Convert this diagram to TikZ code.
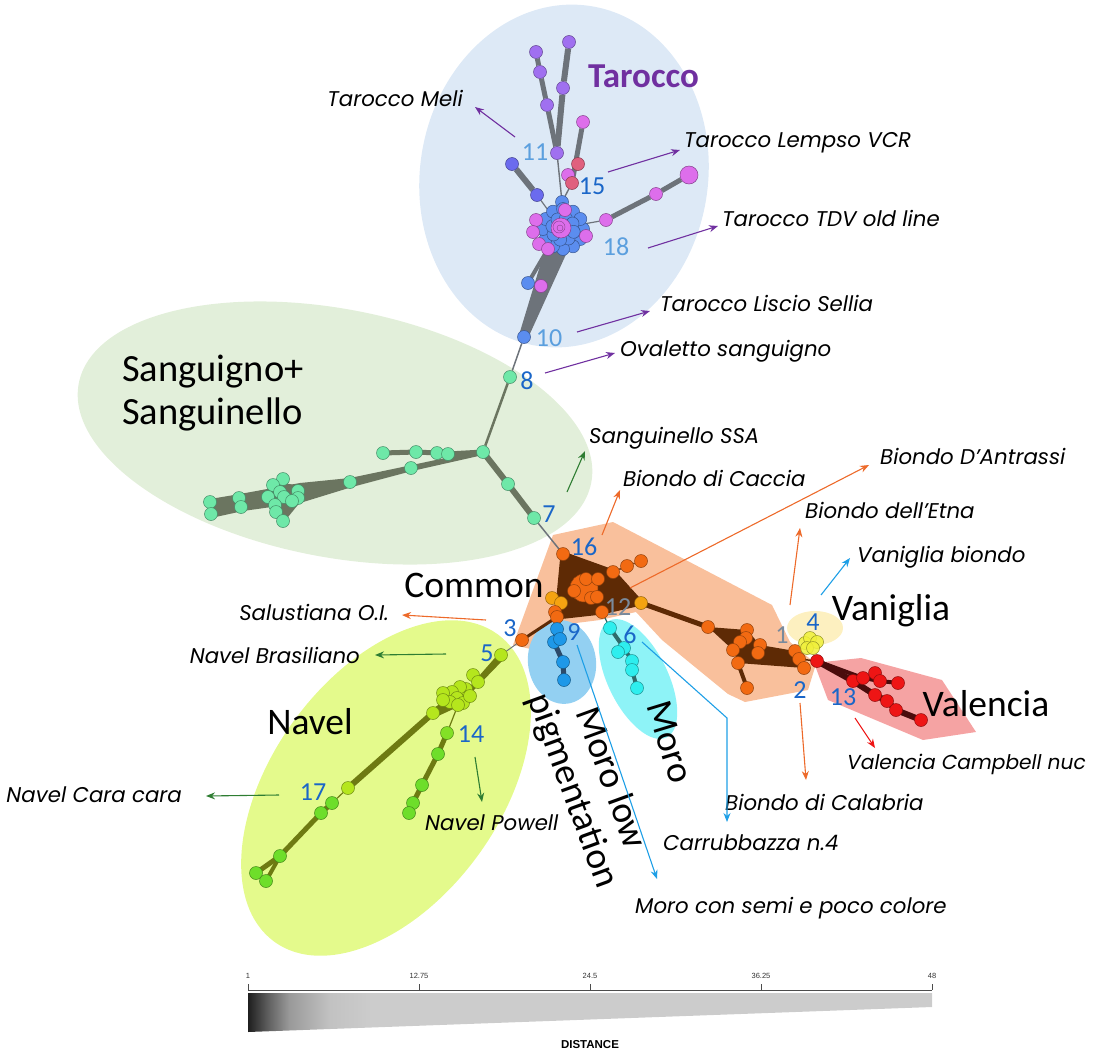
\documentclass[tikz,border=0pt]{standalone}
\usepackage{fontspec}
\setmainfont{Carlito}
\newfontfamily\labfont{Poppins}
\newfontfamily\barfont{Liberation Sans}
\usetikzlibrary{shapes.geometric,arrows.meta}
\pgfdeclarelayer{back}
\pgfdeclarelayer{edges}
\pgfsetlayers{back,edges,main}
\pgfdeclarehorizontalshading{distsh}{100bp}{color(0bp)=(black!88); color(25bp)=(black!88); color(26.5bp)=(black!62); color(28bp)=(black!40); color(31bp)=(black!24); color(34bp)=(black!20); color(100bp)=(black!20)}
\definecolor{tarbg}{HTML}{DDE9F6}
\definecolor{sanbg}{HTML}{E2EFDA}
\definecolor{navbg}{HTML}{E4FA8C}
\definecolor{peach}{HTML}{F9C09C}
\definecolor{vanbg}{HTML}{FDF0C0}
\definecolor{valbg}{HTML}{F5A3A3}
\definecolor{mlbg}{HTML}{93D0F2}
\definecolor{mobg}{HTML}{8EF3F7}
\definecolor{tpur}{HTML}{A070F0}
\definecolor{tpink}{HTML}{DD6EEB}
\definecolor{tblu}{HTML}{5B8DEF}
\definecolor{tvio}{HTML}{6B6BEE}
\definecolor{tred}{HTML}{E0607E}
\definecolor{smint}{HTML}{6EE8A8}
\definecolor{nyg}{HTML}{B5E61D}
\definecolor{ngr}{HTML}{6EDE2A}
\definecolor{oor}{HTML}{F26A12}
\definecolor{oam}{HTML}{F5A311}
\definecolor{vred}{HTML}{EE1515}
\definecolor{mblu}{HTML}{1E98E8}
\definecolor{mcy}{HTML}{2EEEEE}
\definecolor{vyel}{HTML}{F0F03A}
\definecolor{tedgec}{HTML}{6D737A}
\definecolor{sedgec}{HTML}{6B7560}
\definecolor{nedgec}{HTML}{6E7A12}
\definecolor{oedgec}{HTML}{5E2A05}
\definecolor{vedgec}{HTML}{4A0C0C}
\definecolor{mledgec}{HTML}{2C4A6A}
\definecolor{moedgec}{HTML}{2F6B6B}
\definecolor{numdark}{HTML}{1A66C8}
\definecolor{numlight}{HTML}{5B9FDE}
\definecolor{numgray}{HTML}{7A8A9C}
\definecolor{purp}{HTML}{7030A0}
\definecolor{garr}{HTML}{2E7D32}
\definecolor{oarr}{HTML}{ED6A2A}
\definecolor{barr}{HTML}{1E9FE6}
\definecolor{rarr}{HTML}{EE1515}
\begin{document}
\begin{tikzpicture}[x=1pt,y=-1pt,
 nd/.style={circle, inner sep=0pt, minimum size=13pt, fill=#1, draw=#1!60!black, line width=0.5pt},
 bgell/.style={ellipse, draw=none, inner sep=0pt},
 lab/.style={font=\labfont\itshape\fontsize{21.3}{24}\selectfont, text=black, inner sep=0pt},
 grp/.style={font=\fontsize{37.5}{42}\selectfont, text=black, inner sep=0pt},
 numd/.style={font=\fontsize{26}{26}\selectfont, text=numdark, inner sep=0pt},
 numl/.style={numd, text=numlight},
 numg/.style={numd, text=numgray},
 arr/.style={draw=#1, line width=1.1pt, -{Stealth[length=9pt,width=7pt]}},
]
\useasboundingbox (0,0) rectangle (1097,1052);

% ---------- backgrounds ----------
\begin{pgfonlayer}{back}
\node[bgell, fill=sanbg, minimum width=522pt, minimum height=248pt, rotate=-11] (elS) at (335,433) {};
\node[bgell, fill=tarbg, minimum width=288pt, minimum height=344pt, rotate=-9] (elT) at (564,176) {};
\fill[peach] (513,645) -- (553,535) -- (613,522) -- (772,605) -- (790,642) -- (816,664) -- (808,690) -- (745,702) -- (728,694) -- (662,640) -- (636,612) -- (600,620) -- (560,625) -- (535,650) -- cycle;
\node[bgell, fill=navbg, minimum width=380pt, minimum height=228pt, rotate=54] (elN) at (386,788) {};
\node[bgell, fill=mlbg, minimum width=68pt, minimum height=84pt, rotate=8] (elML) at (562,662) {};
\node[bgell, fill=mobg, minimum width=60pt, minimum height=130pt, rotate=26] (elMO) at (638,679) {};
\node[bgell, fill=vanbg, minimum width=56pt, minimum height=34pt] (elV) at (815,628) {};
\fill[valbg] (814,663) -- (861,658) -- (942,680) -- (976,732) -- (923,740) -- (828,700) -- cycle;
\end{pgfonlayer}

% ---------- Tarocco nodes ----------
\node[nd=tpur] (t1) at (569,42) {};
\node[nd=tpur] (t2) at (536,52) {};
\node[nd=tpur] (t3) at (540,72) {};
\node[nd=tpur] (t4) at (563,88) {};
\node[nd=tpur] (t5) at (547,105) {};
\node[nd=tpink] (t6) at (583,122) {};
\node[nd=tpur] (t7) at (557,153) {};
\node[nd=tred] (t8) at (578,164) {};
\node[nd=tpink] (t9) at (568,175) {};
\node[nd=tred] (t10) at (572,183) {};
\node[nd=tvio] (t11) at (512,164) {};
\node[nd=tvio] (t12) at (537,195) {};
\node[nd=tblu] (t13) at (562,202) {};
\node[nd=tpink] (t14) at (606,220) {};
\node[nd=tpink] (t15) at (656,194) {};
\node[nd=tpink, minimum size=18pt] (t16) at (689,175) {};
\node[nd=tblu] (t17) at (528,283) {};
\node[nd=tpink] (t18) at (541,286) {};
\node[nd=tblu] (t19) at (524,337) {};
\foreach \a [count=\i] in {0,30,...,330}
  \node[nd=tblu] (tca\i) at ({563+20*cos(\a)},{229+20*sin(\a)}) {};
\foreach \a [count=\i] in {15,60,...,375}
  \node[nd=tblu] (tcb\i) at ({563+11*cos(\a)},{229+11*sin(\a)}) {};
\foreach \x/\y [count=\i] in {536/220,533/232,539/244,548/249,565/210,586/236}
  \node[nd=tpink] (tcp\i) at (\x,\y) {};
\node[nd=tpink, minimum size=20pt] (tcc) at (561,228) {};
\node[circle, draw=tpink!60!black, line width=0.4pt, minimum size=12pt, inner sep=0pt] (tccr) at (559,227) {};
\node[circle, draw=tpink!60!black, line width=0.4pt, minimum size=6pt, inner sep=0pt] (tccs) at (560,228) {};

% ---------- Sanguigno nodes ----------
\node[nd=smint] (s8) at (510,377) {};
\node[nd=smint] (sJ) at (483,452) {};
\node[nd=smint] (sa) at (383,453) {};
\node[nd=smint] (sb) at (416,452) {};
\node[nd=smint] (sc) at (437,453) {};
\node[nd=smint] (sd) at (448,454) {};
\node[nd=smint] (se) at (411,468) {};
\node[nd=smint] (sf) at (350,482) {};
\foreach \x/\y [count=\i] in {283/479,273/485,280/492,298/491,284/497,298/498,292/501,268/497,275/505,276/512,283/521,239/498,241/507,210/502,211/514}
  \node[nd=smint] (scl\i) at (\x,\y) {};
\node[nd=smint] (s9) at (508,484) {};
\node[nd=smint] (s7) at (534,518) {};

% ---------- Common nodes ----------
\node[nd=oor] (o16) at (563,554) {};
\node[nd=oor] (oa) at (613,572) {};
\node[nd=oor] (ob) at (627,566) {};
\node[nd=oor] (oc) at (641,561) {};
\node[nd=oor, minimum size=28pt] (obig) at (584,588) {};
\node[nd=oor] (od) at (586,579) {};
\node[nd=oor] (oe) at (598,579) {};
\node[nd=oor] (of) at (574,591) {};
\node[nd=oor] (og2) at (591,598) {};
\node[nd=oor] (oh) at (597,597) {};
\node[nd=oor] (o12) at (602,612) {};
\node[nd=oam] (am1) at (552,598) {};
\node[nd=oam] (am2) at (561,603) {};
\node[nd=oam] (am3) at (641,603) {};
\node[nd=oor] (ofa) at (555,612) {};
\node[nd=oor] (og) at (557,617) {};
\node[nd=oor] (o3) at (522,640) {};
% right orange cluster
\foreach \x/\y [count=\i] in {708/627,747/630,746/638,740/642,733/650,760/645,758/653,738/663,747/688,795/651,799/659,804/668}
  \node[nd=oor] (r\i) at (\x,\y) {};
% Vaniglia
\foreach \x/\y [count=\i] in {805/643,810/638,817/642,807/648,813/648}
  \node[nd=vyel, fill opacity=0.85] (y\i) at (\x,\y) {};
% Valencia
\foreach \x/\y [count=\i] in {817/661,853/681,863/678,875/673,880/681,898/683,875/695,887/701,896/710,921/720}
  \node[nd=vred] (v\i) at (\x,\y) {};
% Moro low
\node[nd=mblu] (m1) at (557,629) {};
\node[nd=mblu] (m2) at (554,642) {};
\node[nd=mblu] (m3) at (560,639) {};
\node[nd=mblu] (m4) at (563,662) {};
\node[nd=mblu] (m5) at (564,680) {};
% Moro
\node[nd=mcy] (c1) at (610,628) {};
\node[nd=mcy] (c2) at (624,648) {};
\node[nd=mcy] (c3) at (618,652) {};
\node[nd=mcy] (c4) at (632,661) {};
\node[nd=mcy] (c5) at (632,670) {};
\node[nd=mcy] (c6) at (637,688) {};
% Navel
\node[nd=nyg] (n5) at (501,655) {};
\foreach \x/\y [count=\i] in {473/675,478/682,466/689,460/687,452/692,443/693,457/698,463/703,450/702,443/700,458/705,470/696}
  \node[nd=nyg] (ncl\i) at (\x,\y) {};
\node[nd=nyg] (na) at (433,713) {};
\node[nd=ngr!70!nyg] (n14) at (447,733) {};
\node[nd=ngr] (nb1) at (438,754) {};
\node[nd=ngr] (nb2) at (422,785) {};
\node[nd=ngr] (nb3) at (413,803) {};
\node[nd=ngr] (nb4) at (409,813) {};
\node[nd=nyg] (nc1) at (348,788) {};
\node[nd=ngr] (nc2) at (332,803) {};
\node[nd=ngr] (nc3) at (321,813) {};
\node[nd=ngr] (nc4) at (280,856) {};
\node[nd=ngr] (nc5) at (256,873) {};
\node[nd=ngr] (nc6) at (266,881) {};

% ---------- edges ----------
\begin{pgfonlayer}{edges}
% Tarocco
\draw[tedgec, line width=1.4pt] (t13.center) -- (t7);
\draw[tedgec, line width=5pt] (t7) -- (t5) -- (t3) -- (t2);
\draw[tedgec, line width=6pt] (t7) -- (t4) -- (t1);
\draw[tedgec, line width=1.4pt] (t13.center) -- (t10);
\draw[tedgec, line width=5pt] (t10) -- (t6);
\draw[tedgec, line width=6pt] (t11) -- (t12);
\draw[tedgec, line width=1.2pt] (t12) -- (tcc.center);
\draw[tedgec, line width=1.2pt] (tcc.center) -- (t14);
\draw[tedgec, line width=5pt] (t14) -- (t15) -- (t16);
\fill[tedgec] (546,246) -- (568,250) -- (528,338) -- (519,335) -- cycle;
\draw[tedgec, line width=4pt] (tcp4.center) -- (t17.center);
\draw[tedgec, line width=4pt] (tcp4.center) -- (t18.center);
\draw[tedgec, line width=1.5pt] (t19) -- (s8);
% Sanguigno
\draw[sedgec, line width=2.5pt] (s8) -- (sJ);
\draw[sedgec, line width=5pt] (sJ.center) -- (sd.center) -- (sc.center) -- (sb.center) -- (sa.center);
\fill[sedgec] (483,450) -- (412,465) -- (350,478) -- (300,483) -- (240,494) -- (210,499) -- (211,518) -- (243,511) -- (300,503) -- (352,487) -- (412,471) -- (483,455) -- cycle;
\fill[sedgec] (268,480) -- (300,486) -- (301,501) -- (284,522) -- (270,502) -- cycle;
\draw[sedgec, line width=6pt] (sJ.center) -- (s9.center) -- (s7.center);
\draw[tedgec, line width=1.5pt] (s7) -- (o16);
% Common
\fill[oedgec] (o16.center) -- (oa.center) -- (am3.center) -- (o12.center) -- (og.center) -- cycle;
\draw[oedgec, line width=5pt, line join=round] (o16.center) -- (oa.center) -- (am3.center) -- (o12.center) -- (og.center) -- cycle;
\draw[oedgec, line width=5pt] (am3.center) -- (r1.center);
\draw[oedgec, line width=3pt] (og.center) -- (o3.center);
\draw[oedgec, line width=1.5pt] (oa) -- (ob) -- (oc);
\fill[oedgec] (r1.center) -- (r2.center) -- (r6.center) -- (r10.center) -- (r12.center) -- (r8.center) -- (r5.center) -- cycle;
\draw[oedgec, line width=4pt] (r8.center) -- (r9.center);
\draw[oedgec, line width=1.5pt] (r11.center) -- (v1.center);
% Valencia
\draw[vedgec, line width=6pt] (v1.center) -- (v2.center) -- (v7.center) -- (v8.center) -- (v9.center) -- (v10.center);
\draw[vedgec, line width=4pt] (v1.center) -- (v3.center) -- (v5.center) -- (v6.center);
\draw[vedgec, line width=3pt] (v4.center) -- (v5.center);
% Moro low / Moro
\draw[mledgec, line width=1.2pt] (og.center) -- (m1.center);
\draw[mledgec, line width=5pt] (m1.center) -- (m2.center) -- (m4.center) -- (m5.center);
\draw[moedgec, line width=1.2pt] (o12.center) -- (c1.center);
\draw[moedgec, line width=4pt] (c1.center) -- (c2.center) -- (c4.center) -- (c5.center) -- (c6.center);
% Navel
\draw[tedgec, line width=1pt] (o3) -- (n5);
\fill[nedgec] (500,652) -- (504,659) -- (472,692) -- (458,700) -- cycle;
\fill[nedgec] (445,700) -- (462,705) -- (436,717) -- (430,711) -- cycle;
\draw[nedgec, line width=6pt] (na.center) -- (nc1.center);
\draw[nedgec, line width=1.2pt] (nc1) -- (nc2);
\draw[nedgec, line width=5pt] (nc2.center) -- (nc3.center) -- (nc4.center) -- (nc5.center);
\draw[nedgec, line width=4pt] (nc4.center) -- (nc6.center);
\draw[nedgec, line width=1.2pt] (ncl11.center) -- (n14.center);
\draw[nedgec, line width=5pt] (n14.center) -- (nb1.center) -- (nb2.center) -- (nb3.center) -- (nb4.center);
\end{pgfonlayer}

% ---------- group labels ----------
\node[font=\bfseries\fontsize{35}{35}\selectfont, text=purp, anchor=west, inner sep=0pt] (gT) at (588,76) {Tarocco};
\node[grp, font=\fontsize{38.5}{43}\selectfont, anchor=west, align=left] (gS) at (122,393) {Sanguigno+\\Sanguinello};
\node[grp] (gC) at (474,585) {Common};
\node[grp] (gN) at (310,722) {Navel};
\node[grp] (gV) at (891,611) {Vaniglia};
\node[grp] (gVa) at (986,704) {Valencia};
\node[grp, rotate=-73] (gM) at (670,742) {Moro};
\node[grp, rotate=-70] (gML1) at (613,777) {Moro low};
\node[grp, rotate=-70] (gML2) at (572,791) {pigmentation};

% ---------- numbers ----------
\node[numl] (k11) at (535,152) {11};
\node[numd] (k15) at (592,186) {15};
\node[numl] (k18) at (616,247) {18};
\node[numl] (k10) at (549,338) {10};
\node[numd] (k8) at (527,381) {8};
\node[numd] (k7) at (549,514) {7};
\node[numd] (k16) at (584,547) {16};
\node[numd] (k3) at (510,628) {3};
\node[numd] (k5) at (487,653) {5};
\node[numg] (k12) at (618,607) {12};
\node[numd] (k9) at (574,632) {9};
\node[numd] (k6) at (630,635) {6};
\node[numg] (k1) at (782,635) {1};
\node[numd] (k4) at (813,622) {4};
\node[numd] (k2) at (800,690) {2};
\node[numd] (k13) at (843,697) {13};
\node[numd] (k14) at (471,734) {14};
\node[numd] (k17) at (313,792) {17};

% ---------- cultivar labels and arrows ----------
\node[lab, anchor=east] (lMeli) at (463,98) {Tarocco Meli};
\coordinate (aMeli) at (515,137); \coordinate (bMeli) at (475,107);
\draw[arr=purp] (aMeli) -- (bMeli);
\node[lab, anchor=west] (lLem) at (684,143) {Tarocco Lempso VCR};
\coordinate (aLem) at (608,172); \coordinate (bLem) at (680,150);
\draw[arr=purp] (aLem) -- (bLem);
\node[lab, anchor=west] (lTDV) at (722,218) {Tarocco TDV old line};
\coordinate (aTDV) at (648,248); \coordinate (bTDV) at (718,226);
\draw[arr=purp] (aTDV) -- (bTDV);
\node[lab, anchor=west] (lLis) at (660,303) {Tarocco Liscio Sellia};
\coordinate (aLis) at (577,332); \coordinate (bLis) at (650,311);
\draw[arr=purp] (aLis) -- (bLis);
\node[lab, anchor=west] (lOva) at (620,351) {Ovaletto sanguigno};
\coordinate (aOva) at (545,373); \coordinate (bOva) at (615,353);
\draw[arr=purp] (aOva) -- (bOva);
\node[lab, anchor=west] (lSSA) at (589,438) {Sanguinello SSA};
\coordinate (aSSA) at (567,492); \coordinate (bSSA) at (585,451);
\draw[arr=garr] (aSSA) -- (bSSA);
\node[lab, anchor=east] (lBra) at (360,655) {Navel Brasiliano};
\coordinate (aBra) at (446,654); \coordinate (bBra) at (375,655);
\draw[arr=garr] (aBra) -- (bBra);
\node[lab, anchor=east] (lCar) at (182,795) {Navel Cara cara};
\coordinate (aCar) at (279,795); \coordinate (bCar) at (206,796);
\draw[arr=garr] (aCar) -- (bCar);
\node[lab, anchor=west] (lPow) at (425,823) {Navel Powell};
\coordinate (aPow) at (475,757); \coordinate (bPow) at (482,802);
\draw[arr=garr] (aPow) -- (bPow);
\node[lab, anchor=east] (lSal) at (389,612) {Salustiana O.I.};
\coordinate (aSal) at (486,620); \coordinate (bSal) at (402,615);
\draw[arr=oarr] (aSal) -- (bSal);
\node[lab, anchor=west] (lCac) at (623,478) {Biondo di Caccia};
\coordinate (aCac) at (602,535); \coordinate (bCac) at (620,490);
\draw[arr=oarr] (aCac) -- (bCac);
\node[lab, anchor=west] (lAnt) at (880,456) {Biondo D’Antrassi};
\coordinate (aAnt) at (630,588); \coordinate (bAnt) at (869,465);
\draw[arr=oarr] (aAnt) -- (bAnt);
\node[lab, anchor=west] (lEtn) at (805,510) {Biondo dell’Etna};
\coordinate (aEtn) at (790,605); \coordinate (bEtn) at (800,528);
\draw[arr=oarr] (aEtn) -- (bEtn);
\node[lab, anchor=west] (lCal) at (725,802) {Biondo di Calabria};
\coordinate (aCal) at (800,703); \coordinate (bCal) at (806,780);
\draw[arr=oarr] (aCal) -- (bCal);
\node[lab, anchor=west] (lVb) at (857,557) {Vaniglia biondo};
\coordinate (aVb) at (821,595); \coordinate (bVb) at (850,558);
\draw[arr=barr] (aVb) -- (bVb);
\node[lab, anchor=west] (lMcs) at (635,908) {Moro con semi e poco colore};
\coordinate (aMcs) at (577,645); \coordinate (bMcs) at (657,879);
\draw[arr=barr] (aMcs) -- (bMcs);
\node[lab, anchor=west] (lCrb) at (663,843) {Carrubbazza n.4};
\coordinate (aCrb) at (642,642); \coordinate (kCrb) at (727,718); \coordinate (bCrb) at (727,822);
\draw[arr=barr] (aCrb) -- (kCrb) -- (bCrb);
\node[lab, font=\labfont\itshape\fontsize{20.2}{23}\selectfont, anchor=west] (lVcn) at (847,764) {Valencia Campbell nuc};
\coordinate (aVcn) at (855,718); \coordinate (bVcn) at (875,748);
\draw[arr=rarr] (aVcn) -- (bVcn);

% ---------- distance scale ----------
\shade[shading=distsh] (248,993) -- (932,993) -- (932,1007) -- (248,1032) -- cycle;
\draw[black!70, line width=0.7pt] (248,990) -- (932,990);
\foreach \x/\t in {248/1,419/12.75,590/24.5,761/36.25,932/48} {
  \draw[black!70, line width=0.7pt] (\x,990) -- (\x,984);
  \node[font=\barfont\fontsize{7.5}{8}\selectfont, text=black!80, inner sep=0pt] at (\x,976) {\t};
}
\node[font=\barfont\bfseries\fontsize{11.5}{12}\selectfont, inner sep=0pt] (dist) at (590,1045) {DISTANCE};
\end{tikzpicture}
\end{document}
